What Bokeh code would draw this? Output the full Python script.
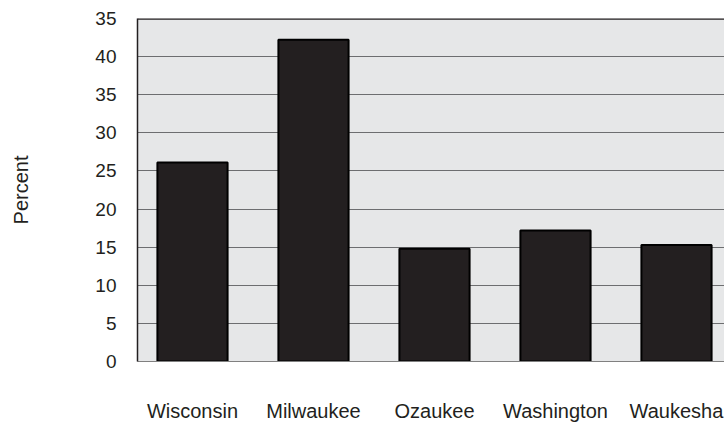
from bokeh.plotting import figure
from bokeh.models import Range1d, FixedTicker, Span
from bokeh.embed import file_html
from bokeh.resources import INLINE

categories = ["Wisconsin", "Milwaukee", "Ozaukee", "Washington", "Waukesha"]
values = [26.1, 42.2, 14.8, 17.2, 15.3]
y_ticks = [0, 5, 10, 15, 20, 25, 30, 35, 40, 45]
y_tick_labels = ["0", "5", "10", "15", "20", "25", "30", "35", "40", "35"]

xs = list(range(len(categories)))

p = figure(width=724, height=424, output_backend="svg", toolbar_location=None,
           x_range=Range1d(-0.4545, 4.3967), y_range=Range1d(0, 45),
           min_border_left=137, min_border_top=18, min_border_right=0, min_border_bottom=63)
p.background_fill_color = "#e6e7e8"
p.border_fill_color = "white"
p.outline_line_color = None

p.vbar(x=xs, top=values, width=0.58, bottom=0, fill_color="#231f20",
       line_color="black", line_width=2)

p.add_layout(Span(location=45, dimension="width", line_color="#231f20", line_width=2.5))

font = "Liberation Sans"

p.xaxis.ticker = FixedTicker(ticks=xs)
p.xaxis.major_label_overrides = {i: c for i, c in zip(xs, categories)}
p.xaxis.major_label_standoff = 32
p.xaxis.major_tick_line_color = None
p.xaxis.minor_tick_line_color = None
p.xaxis.axis_line_color = "#808080"
p.xaxis.axis_line_width = 1
p.xaxis.major_label_text_font = font
p.xaxis.major_label_text_font_size = "20px"
p.xaxis.major_label_text_color = "#231f20"

p.yaxis.ticker = FixedTicker(ticks=y_ticks)
p.yaxis.major_label_overrides = {t: l for t, l in zip(y_ticks, y_tick_labels)}
p.yaxis.major_label_standoff = 15
p.yaxis.major_tick_line_color = None
p.yaxis.minor_tick_line_color = None
p.yaxis.axis_line_color = "#231f20"
p.yaxis.axis_line_width = 1.5
p.yaxis.major_label_text_font = font
p.yaxis.major_label_text_font_size = "19px"
p.yaxis.major_label_text_color = "#231f20"
p.yaxis.axis_label = "Percent"
p.yaxis.axis_label_text_font = font
p.yaxis.axis_label_text_font_size = "20px"
p.yaxis.axis_label_text_font_style = "normal"
p.yaxis.axis_label_text_color = "#231f20"
p.yaxis.axis_label_standoff = 60

p.xgrid.grid_line_color = None
p.ygrid.grid_line_color = "#6d6e70"
p.ygrid.grid_line_width = 1

open("out.html", "w").write(file_html(p, INLINE))
